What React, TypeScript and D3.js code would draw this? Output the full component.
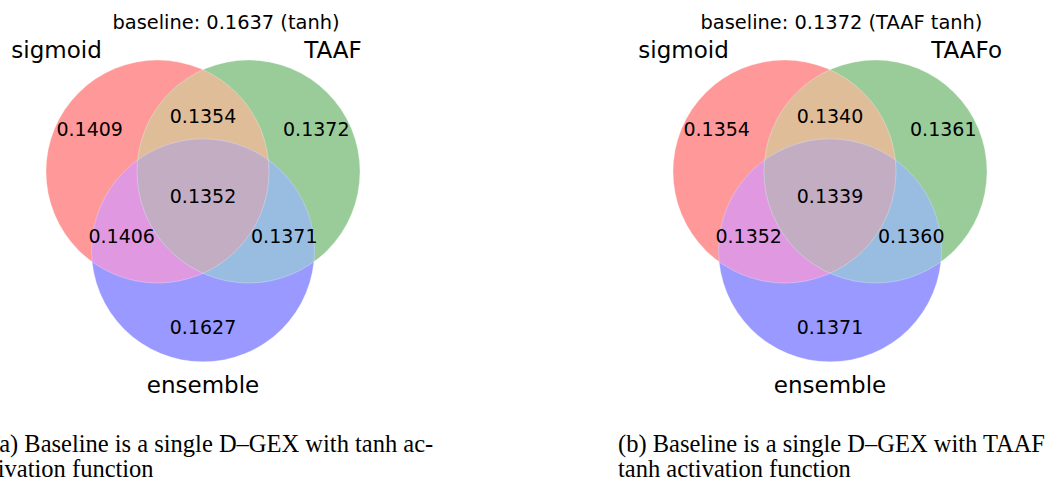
import * as d3 from "d3";

// sets and region values (order: A only, B only, AB, C only, AC, BC, ABC)
const regionKeys = ["100", "010", "110", "001", "101", "011", "111"];
const setNamesA = ["sigmoid", "TAAF", "ensemble"];
const setNamesB = ["sigmoid", "TAAFo", "ensemble"];
const valuesA = [0.1409, 0.1372, 0.1354, 0.1627, 0.1406, 0.1371, 0.1352];
const valuesB = [0.1354, 0.1361, 0.134, 0.1371, 0.1352, 0.136, 0.1339];
const baselineValues = [0.1637, 0.1372];
const baselineNames = ["tanh", "TAAF tanh"];
const captionA = ["(a) Baseline is a single D\u2013GEX with tanh ac-", "tivation function"];
const captionB = ["(b) Baseline is a single D\u2013GEX with TAAF", "tanh activation function"];

// matplotlib-venn style colours (alpha .4 over white)
const regionColors: Record<string, string> = {
  "100": "#ff9999",
  "010": "#99cc99",
  "001": "#9999ff",
  "110": "#e0bd99",
  "101": "#e099e0",
  "011": "#99bde0",
  "111": "#c2adc2",
};

// label positions in radius units, relative to the venn centroid
const labelOffsets: Record<string, [number, number]> = {
  "100": [-1.016, -0.613],
  "010": [1.016, -0.613],
  "110": [0, -0.727],
  "001": [0, 1.165],
  "101": [-0.729, 0.349],
  "011": [0.729, 0.349],
  "111": [0, -0.016],
};

const W = 1052;
const H = 482;
const R = 111.5;
const dist = 0.816; // distance between centers / radius
const hTri = (dist * Math.sqrt(3)) / 2;
const centers: [number, number][] = [
  [-dist / 2, -hTri / 3],
  [dist / 2, -hTri / 3],
  [0, (2 * hTri) / 3],
];
const sans = "DejaVu Sans, sans-serif";
const serif = "Liberation Serif, Times New Roman, serif";

function Venn({ id, cx, cy, titleX, names, values, base, baseName }: any) {
  const x = d3.scaleLinear().domain([-1, 1]).range([cx - R, cx + R]);
  const y = d3.scaleLinear().domain([-1, 1]).range([cy - R, cy + R]);
  const c = centers.map(([a, b]) => [x(a), y(b)]);
  const circ = (i: number, fill: string) => (
    <circle cx={c[i][0]} cy={c[i][1]} r={R} fill={fill} />
  );
  return (
    <g>
      <defs>
        {c.map((p, i) => (
          <clipPath id={`${id}-c${i}`} key={i}>
            <circle cx={p[0]} cy={p[1]} r={R} />
          </clipPath>
        ))}
      </defs>
      {circ(0, regionColors["100"])}
      {circ(1, regionColors["010"])}
      {circ(2, regionColors["001"])}
      <g clipPath={`url(#${id}-c0)`}>{circ(1, regionColors["110"])}</g>
      <g clipPath={`url(#${id}-c0)`}>{circ(2, regionColors["101"])}</g>
      <g clipPath={`url(#${id}-c1)`}>{circ(2, regionColors["011"])}</g>
      <g clipPath={`url(#${id}-c0)`}>
        <g clipPath={`url(#${id}-c1)`}>{circ(2, regionColors["111"])}</g>
      </g>
      {c.map((p, i) => (
        <circle key={i} cx={p[0]} cy={p[1]} r={R} fill="none" stroke="#fff" strokeOpacity={0.35} strokeWidth={0.8} />
      ))}
      {regionKeys.map((k, i) => (
        <text
          key={k}
          x={x(labelOffsets[k][0])}
          y={y(labelOffsets[k][1]) + 6.6}
          textAnchor="middle"
          fontFamily={sans}
          fontSize={19}
        >
          {values[i].toFixed(4)}
        </text>
      ))}
      <text x={c[0][0] - R / 2} y={c[0][1] - R - 2.3} textAnchor="end" fontFamily={sans} fontSize={23}>
        {names[0]}
      </text>
      <text x={c[1][0] + R / 2} y={c[1][1] - R - 2.3} textAnchor="start" fontFamily={sans} fontSize={23}>
        {names[1]}
      </text>
      <text x={c[2][0]} y={c[2][1] + 1.1 * R + 19.7} textAnchor="middle" fontFamily={sans} fontSize={23}>
        {names[2]}
      </text>
      <text x={titleX} y={29} textAnchor="middle" fontFamily={sans} fontSize={19.4}>
        {`baseline: ${base.toFixed(4)} (${baseName})`}
      </text>
    </g>
  );
}

export default function App() {
  return (
    <svg
      width={W}
      height={H}
      style={{ position: "absolute", left: 0, top: 0, background: "#fff" }}
    >
      <rect width={W} height={H} fill="#fff" />
      <Venn id="va" cx={203} cy={197.8} titleX={226} names={setNamesA} values={valuesA} base={baselineValues[0]} baseName={baselineNames[0]} />
      <Venn id="vb" cx={830} cy={197.8} titleX={841.5} names={setNamesB} values={valuesB} base={baselineValues[1]} baseName={baselineNames[1]} />
      {[captionA, captionB].map((cap, j) => (
        <g key={j}>
          {cap.map((line, i) => (
            <text key={i} x={j === 0 ? -9 : 618} y={451.7 + i * 25} fontFamily={serif} fontSize={24.5} fill="#000">
              {line}
            </text>
          ))}
        </g>
      ))}
    </svg>
  );
}
